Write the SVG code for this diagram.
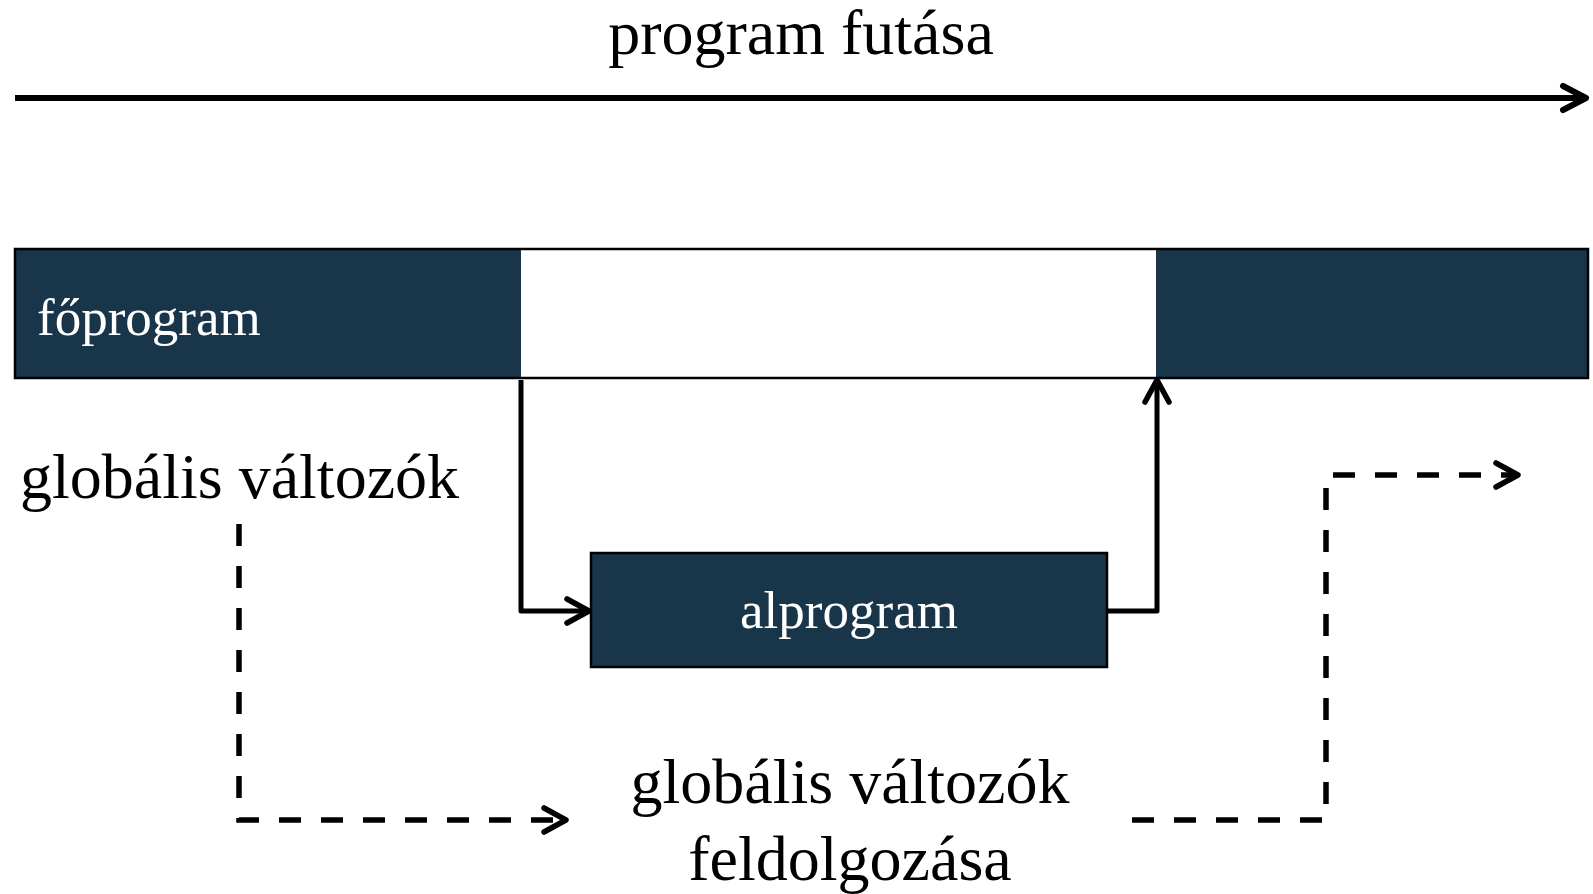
<svg xmlns="http://www.w3.org/2000/svg" width="1593" height="894" viewBox="0 0 1593 894">
<defs>
<style>
.t{font-family:"Liberation Serif","Times New Roman",serif;fill:#000}
.w{fill:#fff}
.dark{fill:#19354a}
.ln{fill:none;stroke:#000;stroke-width:5;stroke-linejoin:round}
.dash{fill:none;stroke:#000;stroke-width:5.5;stroke-dasharray:22 20}
</style>
<marker id="ah" viewBox="0 0 30 30" markerWidth="30" markerHeight="30" refX="26" refY="15" orient="auto" markerUnits="userSpaceOnUse">
<path d="M4 3 L26 15 L4 27" fill="none" stroke="#000" stroke-width="5.5" stroke-linecap="round" stroke-linejoin="round"/>
</marker>
</defs>
<rect width="1593" height="894" fill="#fff"/>
<g id="title">
<text class="t" x="801" y="54" font-size="64" text-anchor="middle">program futása</text>
</g>
<g id="timeline">
<line x1="15" y1="98" x2="1585" y2="98" stroke="#000" stroke-width="6"/>
<path d="M1563 86 L1586 98 L1563 110" fill="none" stroke="#000" stroke-width="6" stroke-linecap="round" stroke-linejoin="round"/>
</g>
<g id="foprogram">
<rect x="15" y="249" width="1573" height="129" fill="#fff"/>
<rect class="dark" x="15" y="249" width="506" height="129"/>
<rect class="dark" x="1156" y="249" width="432" height="129"/>
<rect x="15" y="249" width="1573" height="129" fill="none" stroke="#000" stroke-width="2.5"/>
<text class="t w" x="37" y="335" font-size="53">főprogram</text>
</g>
<g id="alprogram">
<rect class="dark" x="591" y="553" width="516" height="114" stroke="#000" stroke-width="2.5"/>
<text class="t w" x="849" y="628" font-size="53" text-anchor="middle">alprogram</text>
</g>
<g id="globalis">
<text class="t" x="20" y="498" font-size="64">globális változók</text>
</g>
<g id="feldolgozas">
<text class="t" x="850" y="803" font-size="64" text-anchor="middle">globális változók</text>
<text class="t" x="850" y="880" font-size="64" text-anchor="middle">feldolgozása</text>
</g>
<g id="connectors">
<path class="ln" d="M521 380 L521 611 L589 611" marker-end="url(#ah)"/>
<path class="ln" d="M1108 611 L1157 611 L1157 380" marker-end="url(#ah)"/>
<path class="dash" d="M239 524 L239 820 L566 820" marker-end="url(#ah)"/>
<path class="dash" d="M1132 820 L1326 820 L1326 475 L1518 475" marker-end="url(#ah)"/>
</g>
</svg>
